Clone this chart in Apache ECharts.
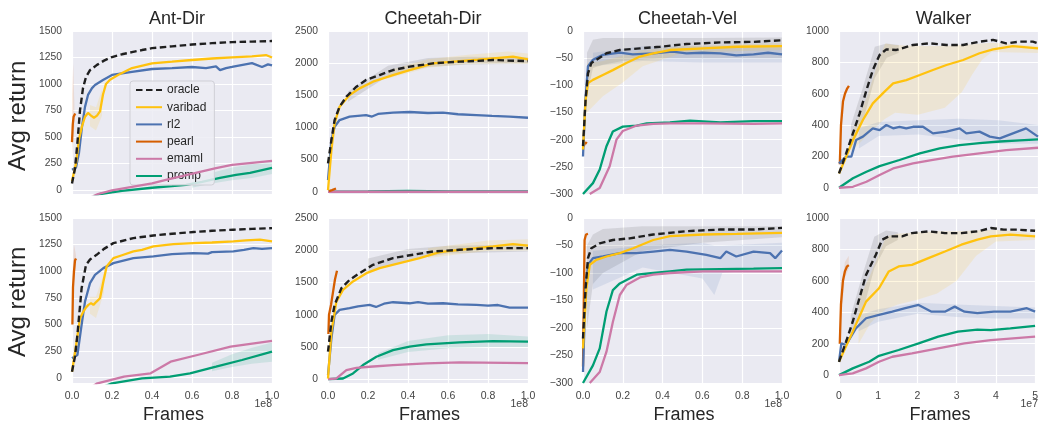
<!DOCTYPE html>
<html><head><meta charset="utf-8">
<script src="https://cdn.jsdelivr.net/npm/echarts@6/dist/echarts.min.js"></script>
<style>html,body{margin:0;padding:0;background:#fff}#c{width:1041px;height:423px}</style>
</head><body><div id="c"></div>
<script>
// ---------- categories / tick labels ----------
const methods = ['oracle','varibad','rl2','pearl','emaml','promp'];
const panelTitles = ['Ant-Dir','Cheetah-Dir','Cheetah-Vel','Walker'];
const xTicksFrac = [0,0.2,0.4,0.6,0.8,1.0];
const xTicksWalker = [0,1,2,3,4,5];
const xExponent = ['1e8','1e8','1e8','1e7'];
const yTicksAntDir = [0,250,500,750,1000,1250,1500];
const yTicksChDir = [0,500,1000,1500,2000,2500];
const yTicksChVel = [-300,-250,-200,-150,-100,-50,0];
const yTicksWalker = [0,200,400,600,800,1000];

// ---------- Ant-Dir (top) ----------
const antDirA_oracle = [[0,60],[0.015,200],[0.027,440],[0.04,750],[0.055,960],[0.07,1066],[0.09,1130],[0.125,1180],[0.16,1220],[0.2,1254],[0.25,1280],[0.3,1300],[0.35,1320],[0.4,1338],[0.5,1355],[0.6,1372],[0.7,1385],[0.8,1395],[0.9,1400],[1.0,1405]];
const antDirA_varibad = [[0,80],[0.02,250],[0.035,480],[0.05,600],[0.065,690],[0.08,726],[0.095,700],[0.11,680],[0.125,700],[0.14,740],[0.155,900],[0.17,1000],[0.19,1040],[0.23,1085],[0.3,1150],[0.4,1195],[0.5,1210],[0.6,1226],[0.7,1240],[0.8,1250],[0.9,1260],[0.97,1273],[1.0,1250]];
const antDirA_rl2 = [[0,190],[0.02,210],[0.035,350],[0.05,596],[0.065,783],[0.08,896],[0.1,960],[0.115,990],[0.155,1037],[0.2,1085],[0.3,1113],[0.4,1141],[0.5,1150],[0.6,1160],[0.67,1150],[0.72,1165],[0.74,1131],[0.77,1150],[0.8,1160],[0.9,1197],[0.95,1160],[0.98,1185],[1.0,1175]];
const antDirA_pearl = [[0.0,450],[0.004,620],[0.008,690],[0.012,700],[0.016,720]];
const antDirA_emaml = [[0,-150],[0.13,-40],[0.2,-5],[0.3,28],[0.4,60],[0.47,94],[0.55,130],[0.64,170],[0.72,205],[0.8,236],[0.9,255],[1.0,273]];
const antDirA_promp = [[0,-150],[0.14,-40],[0.25,-10],[0.4,19],[0.5,35],[0.57,47],[0.65,75],[0.74,113],[0.82,140],[0.89,160],[1.0,207]];
const antDirA_bandPromp = [[0.6,20,80],[0.7,60,160],[0.8,90,210],[0.9,110,240],[1.0,150,260]];
const antDirA_bandVaribad = [[0.09,600,800],[0.12,560,780],[0.15,700,950]];
const antDirA_bandPearl = [[0,300,900],[0.006,500,1200],[0.012,600,800]];

// ---------- Ant-Dir (bottom) ----------
const antDirB_oracle = [[0,56],[0.015,200],[0.027,401],[0.048,840],[0.07,1060],[0.09,1110],[0.123,1154],[0.16,1210],[0.207,1264],[0.307,1311],[0.407,1336],[0.5,1352],[0.607,1368],[0.7,1380],[0.807,1390],[0.9,1398],[1.0,1405]];
const antDirB_varibad = [[0,56],[0.02,300],[0.04,558],[0.057,621],[0.07,660],[0.082,684],[0.095,700],[0.107,684],[0.123,715],[0.14,746],[0.157,903],[0.173,1045],[0.207,1123],[0.25,1150],[0.307,1186],[0.35,1200],[0.407,1233],[0.507,1255],[0.607,1264],[0.7,1270],[0.807,1280],[0.87,1290],[0.94,1296],[1.0,1280]];
const antDirB_rl2 = [[0,182],[0.027,213],[0.048,496],[0.065,715],[0.09,888],[0.115,966],[0.157,1029],[0.207,1076],[0.307,1123],[0.407,1139],[0.5,1160],[0.607,1170],[0.68,1165],[0.7,1180],[0.807,1186],[0.86,1200],[0.907,1217],[0.95,1210],[1.0,1217]];
const antDirB_pearl = [[0.002,500],[0.005,850],[0.01,1000],[0.015,1100],[0.02,1120]];
const antDirB_emaml = [[0,-200],[0.127,-53],[0.26,9],[0.393,41],[0.493,150],[0.627,213],[0.793,292],[1.0,345]];
const antDirB_promp = [[0,-200],[0.2,-53],[0.35,-6],[0.49,9],[0.59,41],[0.72,103],[0.85,166],[1.0,245]];
const antDirB_bandPromp = [[0.7,60,140],[0.8,100,220],[0.9,130,280],[1.0,150,330]];
const antDirB_bandVaribad = [[0.09,600,760],[0.12,560,760],[0.16,800,980]];
const antDirB_bandPearl = [[0,400,900],[0.01,900,1250],[0.02,1050,1150]];

// ---------- Cheetah-Dir (top) ----------
const chDirA_oracle = [[0,441],[0.017,804],[0.033,1115],[0.058,1323],[0.092,1478],[0.142,1634],[0.19,1738],[0.258,1815],[0.325,1893],[0.408,1945],[0.525,1997],[0.658,2023],[0.75,2035],[0.825,2049],[0.9,2040],[1.0,2033]];
const chDirA_varibad = [[0,26],[0.017,648],[0.033,1063],[0.058,1323],[0.108,1504],[0.158,1608],[0.225,1712],[0.325,1815],[0.408,1893],[0.525,1997],[0.658,2033],[0.75,2055],[0.825,2075],[0.925,2101],[1.0,2059]];
const chDirA_rl2 = [[0,180],[0.017,804],[0.033,1011],[0.058,1115],[0.108,1167],[0.19,1193],[0.22,1170],[0.25,1210],[0.325,1229],[0.408,1240],[0.5,1225],[0.575,1229],[0.65,1205],[0.742,1193],[0.82,1180],[0.908,1167],[1.0,1151]];
const chDirA_pearl = [[0.005,10],[0.02,25],[0.04,50]];
const chDirA_emaml = [[0,0],[0.5,2],[1.0,0]];
const chDirA_promp = [[0,0],[0.2,5],[0.4,12],[0.6,5],[1.0,5]];
const chDirA_bandOracle = [[0.1,1400,1560],[0.3,1800,1960],[0.5,1940,2080],[0.7,1980,2100],[1.0,1990,2090]];
const chDirA_bandVaribad = [[0.3,1760,1880],[0.5,1930,2060],[0.7,1990,2130],[0.9,2000,2180],[1.0,1990,2150]];

// ---------- Cheetah-Dir (bottom) ----------
const chDirB_oracle = [[0,425],[0.017,892],[0.033,1152],[0.067,1411],[0.108,1540],[0.158,1644],[0.225,1774],[0.325,1878],[0.425,1930],[0.525,1981],[0.658,2007],[0.825,2033],[1.0,2033]];
const chDirB_varibad = [[0,10],[0.017,737],[0.042,1203],[0.075,1385],[0.125,1515],[0.192,1644],[0.258,1722],[0.358,1800],[0.458,1878],[0.558,1971],[0.658,2007],[0.825,2059],[0.925,2095],[1.0,2070]];
const chDirB_rl2 = [[0,62],[0.017,633],[0.033,996],[0.058,1074],[0.108,1100],[0.15,1130],[0.208,1151],[0.24,1120],[0.28,1170],[0.325,1193],[0.408,1177],[0.45,1195],[0.5,1170],[0.575,1177],[0.65,1160],[0.742,1151],[0.8,1140],[0.85,1150],[0.908,1110],[1.0,1110]];
const chDirB_pearl = [[0.002,700],[0.005,1000],[0.015,1150],[0.025,1350],[0.035,1550],[0.045,1680]];
const chDirB_emaml = [[0,0],[0.042,10],[0.092,140],[0.142,176],[0.208,192],[0.325,218],[0.492,244],[0.658,259],[1.0,249]];
const chDirB_promp = [[0,0],[0.075,10],[0.125,88],[0.175,218],[0.242,348],[0.325,451],[0.408,503],[0.492,539],[0.658,570],[0.825,591],[1.0,581]];
const chDirB_bandOracle = [[0.2,1650,1870],[0.4,1850,2020],[0.6,1950,2070],[1.0,1980,2090]];
const chDirB_bandVaribad = [[0.5,1880,2030],[0.8,1990,2150],[1.0,2000,2170]];
const chDirB_bandPromp = [[0.25,300,400],[0.4,420,590],[0.6,480,680],[0.8,500,700],[1.0,500,660]];

// ---------- Cheetah-Vel (top) ----------
const chVelA_oracle = [[0,-212],[0.013,-127],[0.025,-78],[0.042,-59],[0.067,-53],[0.118,-41],[0.185,-35],[0.286,-32],[0.387,-29],[0.52,-24],[0.69,-21],[0.857,-20],[1.0,-17]];
const chVelA_varibad = [[0,-218],[0.013,-127],[0.025,-96],[0.05,-90],[0.1,-81],[0.15,-72],[0.218,-59],[0.286,-47],[0.353,-41],[0.437,-35],[0.605,-32],[0.773,-29],[1.0,-28]];
const chVelA_rl2 = [[0,-231],[0.012,-127],[0.025,-65],[0.05,-53],[0.1,-44],[0.185,-40],[0.25,-43],[0.353,-41],[0.45,-38],[0.52,-41],[0.6,-40],[0.69,-41],[0.77,-45],[0.857,-43],[0.93,-40],[1.0,-43]];
const chVelA_pearl = [[0.003,-212],[0.012,-205],[0.02,-207]];
const chVelA_emaml = [[0.034,-300],[0.084,-289],[0.134,-249],[0.168,-200],[0.2,-184],[0.27,-174],[0.353,-171],[0.437,-170],[0.605,-170],[0.857,-171],[1.0,-170]];
const chVelA_promp = [[0,-300],[0.05,-280],[0.084,-255],[0.118,-212],[0.15,-185],[0.2,-176],[0.27,-174],[0.32,-170],[0.437,-168],[0.538,-165],[0.69,-168],[0.857,-166],[1.0,-166]];
const chVelA_bandOracle = [[0.02,-120,-40],[0.05,-68,-16],[0.1,-62,-13],[0.2,-55,-13],[0.4,-50,-13],[0.6,-50,-13],[1.0,-50,-12]];
const chVelA_bandRl2 = [[0.05,-65,-40],[0.3,-55,-28],[0.6,-58,-28],[1.0,-58,-30]];
const chVelA_bandVaribad = [[0.02,-150,-60],[0.1,-120,-55],[0.2,-95,-45],[0.3,-65,-35],[0.5,-40,-28],[1.0,-35,-22]];

// ---------- Cheetah-Vel (bottom) ----------
const chVelB_oracle = [[0,-219],[0.013,-128],[0.025,-73],[0.042,-55],[0.084,-46],[0.15,-40],[0.235,-37],[0.353,-30],[0.52,-24],[0.69,-21],[0.857,-21],[1.0,-18]];
const chVelB_varibad = [[0,-237],[0.017,-128],[0.034,-85],[0.067,-76],[0.118,-70],[0.185,-64],[0.252,-55],[0.353,-40],[0.437,-33],[0.605,-30],[0.773,-29],[1.0,-27]];
const chVelB_rl2 = [[0,-280],[0.013,-128],[0.025,-85],[0.05,-73],[0.1,-70],[0.185,-64],[0.27,-64],[0.353,-61],[0.437,-58],[0.52,-61],[0.62,-67],[0.69,-73],[0.72,-61],[0.77,-70],[0.857,-61],[0.94,-64],[0.966,-73],[1.0,-59]];
const chVelB_pearl = [[0,-270],[0.004,-150],[0.008,-40],[0.015,-30],[0.025,-29]];
const chVelB_emaml = [[0.034,-300],[0.084,-280],[0.118,-243],[0.15,-189],[0.185,-140],[0.218,-122],[0.286,-108],[0.353,-103],[0.437,-100],[0.605,-97],[0.773,-97],[1.0,-97]];
const chVelB_promp = [[0,-300],[0.05,-268],[0.084,-237],[0.118,-170],[0.15,-131],[0.185,-119],[0.27,-103],[0.353,-100],[0.437,-97],[0.52,-94],[0.69,-93],[0.857,-92],[1.0,-91]];
const chVelB_bandOracle = [[0.02,-200,-50],[0.05,-120,-30],[0.1,-100,-20],[0.3,-60,-15],[0.6,-45,-15],[1.0,-35,-15]];
const chVelB_bandRl2 = [[0.05,-130,-60],[0.3,-90,-50],[0.6,-110,-45],[0.66,-140,-50],[0.7,-100,-50],[1.0,-90,-45]];

// ---------- Walker (top) ----------
const walkerA_oracle = [[0,91],[0.18,219],[0.35,347],[0.52,475],[0.69,623],[0.85,751],[1.02,847],[1.19,883],[1.44,879],[1.86,911],[2.28,921],[2.7,911],[3.12,911],[3.53,932],[3.87,943],[4.2,921],[4.54,932],[4.87,932],[5.0,921]];
const walkerA_varibad = [[0,91],[0.18,198],[0.35,304],[0.6,432],[0.85,538],[1.1,602],[1.36,666],[1.69,687],[2.03,719],[2.36,751],[2.7,783],[3.12,815],[3.53,858],[3.87,883],[4.37,904],[5.0,889]];
const walkerA_rl2 = [[0,155],[0.18,198],[0.31,198],[0.43,304],[0.6,326],[0.85,379],[1.02,368],[1.19,400],[1.36,379],[1.52,389],[1.69,379],[1.86,389],[2.11,389],[2.36,347],[2.7,358],[3.03,379],[3.2,347],[3.53,358],[3.79,326],[4.04,315],[4.37,347],[4.7,379],[5.0,326]];
const walkerA_pearl = [[0.02,150],[0.05,400],[0.1,550],[0.15,600],[0.2,630],[0.25,650]];
const walkerA_emaml = [[0,0],[0.35,6],[0.69,38],[1.02,81],[1.36,123],[1.86,155],[2.36,177],[2.86,198],[3.53,219],[4.2,240],[5.0,255]];
const walkerA_promp = [[0,0],[0.35,60],[0.69,102],[1.02,138],[1.52,177],[2.03,219],[2.53,251],[3.03,272],[3.53,285],[4.04,295],[4.54,302],[5.0,308]];
const walkerA_bandOracle = [[0.3,250,400],[0.6,420,640],[0.9,700,900],[1.2,830,920],[1.5,860,910]];
const walkerA_bandVaribad = [[0.3,230,320],[0.73,338,600],[0.98,401,800],[1.16,440,920],[1.41,478,911],[1.98,465,905],[2.66,510,905],[3.09,611,910],[3.34,720,915],[3.59,815,920],[3.84,866,925],[5,860,905]];
const walkerA_bandRl2 = [[0.5,250,380],[1,330,420],[2,340,430],[3,310,440],[4,280,430],[5,280,400]];

// ---------- Walker (bottom) ----------
const walkerB_oracle = [[0,85],[0.18,213],[0.35,340],[0.52,489],[0.69,638],[0.94,766],[1.1,862],[1.27,883],[1.61,883],[1.86,904],[2.28,915],[2.7,904],[3.12,904],[3.53,915],[3.87,936],[4.2,926],[4.54,926],[5.0,919]];
const walkerB_varibad = [[0,85],[0.35,277],[0.69,468],[1.02,553],[1.27,660],[1.52,692],[1.86,702],[2.28,745],[2.7,787],[3.12,830],[3.53,862],[3.87,883],[4.37,894],[5.0,883]];
const walkerB_rl2 = [[0,85],[0.06,202],[0.18,192],[0.43,298],[0.69,362],[1.02,383],[1.36,404],[1.69,426],[2.03,447],[2.36,404],[2.7,404],[2.95,436],[3.2,404],[3.53,394],[3.95,404],[4.37,404],[4.79,426],[5.0,404]];
const walkerB_pearl = [[0.02,200],[0.05,450],[0.1,600],[0.15,660],[0.2,690],[0.25,700]];
const walkerB_emaml = [[0,0],[0.35,11],[0.69,43],[1.02,85],[1.36,117],[1.86,138],[2.53,170],[3.2,202],[3.87,223],[5.0,245]];
const walkerB_promp = [[0,0],[0.35,43],[0.77,85],[1.02,123],[1.52,160],[2.03,202],[2.53,245],[3.03,277],[3.53,290],[3.87,287],[4.37,298],[5.0,313]];
const walkerB_bandOracle = [[0.3,240,380],[0.6,400,640],[0.9,680,880],[1.2,820,920],[1.5,860,910]];
const walkerB_bandVaribad = [[0.5,200,480],[0.8,330,640],[1,380,760],[1.2,420,880],[1.5,450,900],[2,480,910],[2.5,520,915],[3,600,915],[3.5,760,920],[4,850,925],[5,860,900]];
const walkerB_bandRl2 = [[0.5,280,380],[1,340,420],[2,390,460],[3,370,450],[4,360,440],[5,360,430]];
const walkerB_bandPearl = [[0.05,350,500],[0.15,620,720],[0.25,680,760]];

// ---------- styling / layout ----------
const colors = {oracle:'#1f1f1f', varibad:'#FFC20E', rl2:'#4C72B0', pearl:'#D55E00', emaml:'#CC79A7', promp:'#009E73'};
const bandColors = {oracle:'rgba(60,60,60,0.13)', varibad:'rgba(255,194,14,0.13)', rl2:'rgba(76,114,176,0.13)', pearl:'rgba(213,94,0,0.12)', emaml:'rgba(204,121,167,0.15)', promp:'rgba(0,158,115,0.12)'};
const colLeft = [72, 328, 583, 839];
const colWidth = [200, 200, 199, 199];
const rowTop = [31, 218];
const rowHeight = [163, 165];
const FONT = '"Liberation Sans", Arial, sans-serif';

const panels = [
  {row:0,col:0,yMin:-40,yMax:1500,yTicks:yTicksAntDir,lines:{oracle:antDirA_oracle,varibad:antDirA_varibad,rl2:antDirA_rl2,pearl:antDirA_pearl,emaml:antDirA_emaml,promp:antDirA_promp},bands:[['promp',antDirA_bandPromp],['varibad',antDirA_bandVaribad],['pearl',antDirA_bandPearl]]},
  {row:0,col:1,yMin:-35,yMax:2500,yTicks:yTicksChDir,lines:{oracle:chDirA_oracle,varibad:chDirA_varibad,rl2:chDirA_rl2,pearl:chDirA_pearl,emaml:chDirA_emaml,promp:chDirA_promp},bands:[['oracle',chDirA_bandOracle],['varibad',chDirA_bandVaribad]]},
  {row:0,col:2,yMin:-300,yMax:0,yTicks:yTicksChVel,lines:{oracle:chVelA_oracle,varibad:chVelA_varibad,rl2:chVelA_rl2,pearl:chVelA_pearl,emaml:chVelA_emaml,promp:chVelA_promp},bands:[['oracle',chVelA_bandOracle],['rl2',chVelA_bandRl2],['varibad',chVelA_bandVaribad]]},
  {row:0,col:3,yMin:-40,yMax:1000,yTicks:yTicksWalker,lines:{oracle:walkerA_oracle,varibad:walkerA_varibad,rl2:walkerA_rl2,pearl:walkerA_pearl,emaml:walkerA_emaml,promp:walkerA_promp},bands:[['oracle',walkerA_bandOracle],['varibad',walkerA_bandVaribad],['rl2',walkerA_bandRl2]]},
  {row:1,col:0,yMin:-50,yMax:1500,yTicks:yTicksAntDir,lines:{oracle:antDirB_oracle,varibad:antDirB_varibad,rl2:antDirB_rl2,pearl:antDirB_pearl,emaml:antDirB_emaml,promp:antDirB_promp},bands:[['promp',antDirB_bandPromp],['varibad',antDirB_bandVaribad],['pearl',antDirB_bandPearl]]},
  {row:1,col:1,yMin:-60,yMax:2500,yTicks:yTicksChDir,lines:{oracle:chDirB_oracle,varibad:chDirB_varibad,rl2:chDirB_rl2,pearl:chDirB_pearl,emaml:chDirB_emaml,promp:chDirB_promp},bands:[['oracle',chDirB_bandOracle],['varibad',chDirB_bandVaribad],['promp',chDirB_bandPromp]]},
  {row:1,col:2,yMin:-300,yMax:0,yTicks:yTicksChVel,lines:{oracle:chVelB_oracle,varibad:chVelB_varibad,rl2:chVelB_rl2,pearl:chVelB_pearl,emaml:chVelB_emaml,promp:chVelB_promp},bands:[['oracle',chVelB_bandOracle],['rl2',chVelB_bandRl2]]},
  {row:1,col:3,yMin:-50,yMax:1000,yTicks:yTicksWalker,lines:{oracle:walkerB_oracle,varibad:walkerB_varibad,rl2:walkerB_rl2,pearl:walkerB_pearl,emaml:walkerB_emaml,promp:walkerB_promp},bands:[['oracle',walkerB_bandOracle],['varibad',walkerB_bandVaribad],['rl2',walkerB_bandRl2],['pearl',walkerB_bandPearl]]}
];

const fmtY = v => v < 0 ? '\u2212' + Math.abs(v) : String(v);

const grids = [], xAxes = [], yAxes = [], series = [], titles = [], graphics = [];
panels.forEach((p, i) => {
  const isWalker = p.col === 3;
  grids.push({left: colLeft[p.col], top: rowTop[p.row], width: colWidth[p.col], height: rowHeight[p.row],
    show: true, backgroundColor: '#EAEAF2', borderWidth: 0, containLabel: false});
  xAxes.push({type:'value', gridIndex:i, min:0, max: isWalker ? 5 : 1, interval: isWalker ? 1 : 0.2,
    axisLine:{show:false}, axisTick:{show:false},
    splitLine:{show:true, lineStyle:{color:'#ffffff', width:1.2}},
    axisLabel:{show: p.row === 1, color:'#444', fontSize:10.5, fontFamily:FONT, margin:8,
      formatter: v => isWalker ? String(Math.round(v)) : v.toFixed(1)}});
  yAxes.push({type:'value', gridIndex:i, min:p.yMin, max:p.yMax,
    axisLine:{show:false},
    axisTick:{show:false, customValues:p.yTicks},
    splitLine:{show:true, lineStyle:{color:'#ffffff', width:1.2}},
    axisLabel:{color:'#444', fontSize:10.3, fontFamily:FONT, margin:10, customValues:p.yTicks, formatter: fmtY}});
  p.bands.forEach(([m, band]) => {
    series.push({type:'custom', name:'band-'+m, xAxisIndex:i, yAxisIndex:i, silent:true, z:1,
      data:[[band[0][0], band[0][1]]],
      renderItem:(params, api) => {
        const pts = [];
        band.forEach(b => pts.push(api.coord([b[0], b[1]])));
        for (let k = band.length - 1; k >= 0; k--) pts.push(api.coord([band[k][0], band[k][2]]));
        return {type:'polygon', shape:{points:pts}, style:{fill:bandColors[m]}};
      }});
  });
  ['promp','emaml','pearl','rl2','varibad','oracle'].forEach((m, k) => {
    series.push({type:'line', name:m, xAxisIndex:i, yAxisIndex:i, data:p.lines[m], symbol:'none',
      clip:true, z:3+k, color:colors[m],
      lineStyle:{color:colors[m], width: m==='oracle' ? 2.4 : 2.3, type: m==='oracle' ? [6.5,3.5] : 'solid'}});
  });
  const cx = colLeft[p.col] + colWidth[p.col]/2;
  if (p.row === 0) {
    titles.push({text: panelTitles[p.col], left: cx, top: 5, textAlign:'center',
      textStyle:{fontSize:18, fontWeight:'normal', color:'#262626', fontFamily:FONT}});
  } else {
    graphics.push({type:'text', left: cx - 29, top: 406, style:{text:'Frames', fill:'#262626', font:'18px '+FONT}});
    graphics.push({type:'text', right: 1041 - colLeft[p.col] - colWidth[p.col], top: 399, style:{text:xExponent[p.col], fill:'#444', font:'10.5px '+FONT}});
  }
});
[115, 301].forEach(cy => {
  graphics.push({type:'text', x: 6, y: cy + 56, rotation: Math.PI/2,
    style:{text:'Avg return', fill:'#262626', font:'24px '+FONT}});
});

const chart = echarts.init(document.getElementById('c'), null, {renderer:'canvas'});
chart.setOption({
  animation:false,
  backgroundColor:'#ffffff',
  title: titles,
  grid: grids, xAxis: xAxes, yAxis: yAxes, series: series,
  graphic: graphics,
  legend: {data: methods, orient:'vertical', left:130, top:81, itemWidth:26, itemHeight:12, itemGap:5.2,
    padding:[3,8,3,5], backgroundColor:'rgba(236,236,243,0.85)', borderColor:'#cfcfd6', borderWidth:1, borderRadius:3,
    itemStyle:{opacity:0},
    textStyle:{fontSize:12, color:'#262626', fontFamily:FONT}, selectedMode:false}
});
</script></body></html>
